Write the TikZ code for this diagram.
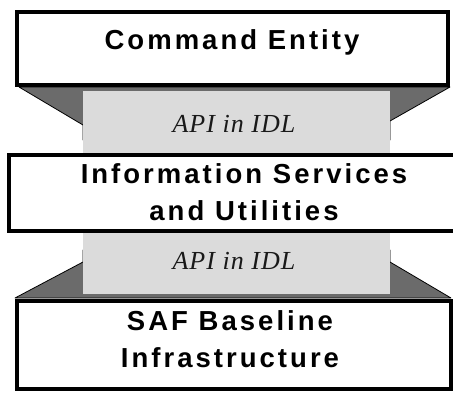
\documentclass[tikz,border=0pt]{standalone}
\usepackage{fontspec}
\newfontfamily\layerfont{Liberation Sans}[LetterSpace=11]
\newfontfamily\apifont{Liberation Serif}[LetterSpace=4]
\begin{document}
\begin{tikzpicture}[x=1pt,y=-1pt,
  layerbox/.style={draw=black, line width=4pt, fill=white, inner sep=0pt, rectangle},
  layertext/.style={font=\layerfont\bfseries\fontsize{27.5}{37}\selectfont, align=center, inner sep=0pt, anchor=base},
  apitext/.style={font=\apifont\itshape\fontsize{26}{30}\selectfont, text=black!90, inner sep=0pt, anchor=base},
  bevel/.style={fill=black!58, draw=black, line width=0.8pt, line join=round},
  apiband/.style={fill=black!14, draw=none}]
\useasboundingbox (0,0) rectangle (453,392);
\fill[white] (0,0) rectangle (453,392);
\clip (0,0) rectangle (453,392);

% interface between the command layer and the services layer
\path[bevel] (19,87) -- (450,87) -- (390,121) -- (390,140) -- (83,140) -- (83,125) -- cycle;
\path[apiband] (83,91) rectangle (390,153);
\node[apitext] (api1) at (234,132) {API in IDL};

% interface between the services layer and the baseline layer
\path[bevel] (15,298) -- (451,298) -- (390,262) -- (390,250) -- (83,250) -- (83,262) -- cycle;
\path[apiband] (83,231) rectangle (390,294);
\node[apitext] (api2) at (234,269) {API in IDL};

% the three layers (a multi-line label sits on the baseline of its last line)
\node[layerbox, minimum width=431pt, minimum height=73pt] (cmd) at (232.5,48.5) {};
\node[layertext] (cmdtxt) at (232,49) {Command Entity};

\node[layerbox, minimum width=461pt, minimum height=76pt] (svc) at (239.5,192.5) {};
\node[layertext] (svctxt) at (244,220) {Information Services\\and Utilities};

\node[layerbox, minimum width=434pt, minimum height=88pt] (base) at (234,344.5) {};
\node[layertext, text height=20pt] (basetxt) at (230,367) {\fontsize{27.5}{32}\selectfont SAF Baseline\\Infrastructure};
\end{tikzpicture}
\end{document}
